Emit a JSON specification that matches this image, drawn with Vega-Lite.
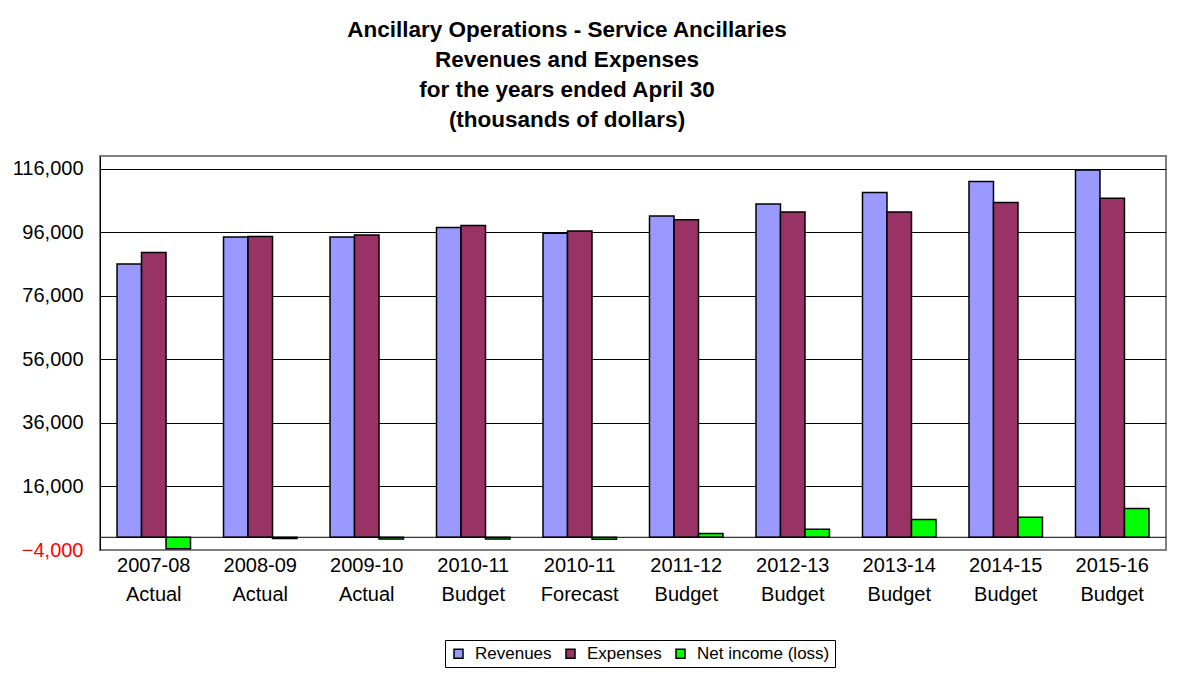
{
  "$schema": "https://vega.github.io/schema/vega-lite/v6.json",
  "autosize": {"type": "none"},
  "width": 1066,
  "height": 394,
  "padding": {"left": 100, "top": 156, "right": 32, "bottom": 126},
  "background": "white",
  "config": {
    "font": "Liberation Sans",
    "view": {"stroke": "#808080", "strokeWidth": 2},
    "axis": {"labelFont": "Liberation Sans", "labelColor": "black"}
  },
  "title": {
    "text": ["Ancillary Operations - Service Ancillaries", "Revenues and Expenses", "for the years ended April 30", "(thousands of dollars)"],
    "font": "Liberation Sans",
    "fontSize": 22.5,
    "fontWeight": "bold",
    "color": "black",
    "lineHeight": 30,
    "anchor": "middle",
    "dx": -66,
    "offset": 25
  },
  "data": {
    "values": [
      {"period": "2007-08|Actual", "series": "Revenues", "value": 86000},
      {"period": "2007-08|Actual", "series": "Expenses", "value": 89600},
      {"period": "2007-08|Actual", "series": "Net income (loss)", "value": -3600},
      {"period": "2008-09|Actual", "series": "Revenues", "value": 94500},
      {"period": "2008-09|Actual", "series": "Expenses", "value": 94700},
      {"period": "2008-09|Actual", "series": "Net income (loss)", "value": -400},
      {"period": "2009-10|Actual", "series": "Revenues", "value": 94500},
      {"period": "2009-10|Actual", "series": "Expenses", "value": 95100},
      {"period": "2009-10|Actual", "series": "Net income (loss)", "value": -500},
      {"period": "2010-11|Budget", "series": "Revenues", "value": 97500},
      {"period": "2010-11|Budget", "series": "Expenses", "value": 98100},
      {"period": "2010-11|Budget", "series": "Net income (loss)", "value": -500},
      {"period": "2010-11|Forecast", "series": "Revenues", "value": 95700},
      {"period": "2010-11|Forecast", "series": "Expenses", "value": 96400},
      {"period": "2010-11|Forecast", "series": "Net income (loss)", "value": -600},
      {"period": "2011-12|Budget", "series": "Revenues", "value": 101100},
      {"period": "2011-12|Budget", "series": "Expenses", "value": 99900},
      {"period": "2011-12|Budget", "series": "Net income (loss)", "value": 1200},
      {"period": "2012-13|Budget", "series": "Revenues", "value": 104900},
      {"period": "2012-13|Budget", "series": "Expenses", "value": 102400},
      {"period": "2012-13|Budget", "series": "Net income (loss)", "value": 2500},
      {"period": "2013-14|Budget", "series": "Revenues", "value": 108500},
      {"period": "2013-14|Budget", "series": "Expenses", "value": 102400},
      {"period": "2013-14|Budget", "series": "Net income (loss)", "value": 5600},
      {"period": "2014-15|Budget", "series": "Revenues", "value": 112000},
      {"period": "2014-15|Budget", "series": "Expenses", "value": 105400},
      {"period": "2014-15|Budget", "series": "Net income (loss)", "value": 6300},
      {"period": "2015-16|Budget", "series": "Revenues", "value": 115600},
      {"period": "2015-16|Budget", "series": "Expenses", "value": 106700},
      {"period": "2015-16|Budget", "series": "Net income (loss)", "value": 9100}
    ]
  },
  "layer": [
    {
      "mark": {"type": "bar", "stroke": "black", "strokeWidth": 1.5},
      "encoding": {
        "x": {
          "field": "period",
          "type": "nominal",
          "sort": null,
          "title": null,
          "scale": {"paddingInner": 0.31, "paddingOuter": 0.16},
          "axis": {
            "labelAngle": 0,
            "labelExpr": "split(datum.value, '|')",
            "labelFontSize": 20,
            "labelLineHeight": 29,
            "labelPadding": 5,
            "ticks": false,
            "domain": false,
            "grid": false
          }
        },
        "xOffset": {
          "field": "series",
          "type": "nominal",
          "sort": ["Revenues", "Expenses", "Net income (loss)"],
          "scale": {"paddingInner": 0, "paddingOuter": 0}
        },
        "y": {
          "field": "value",
          "type": "quantitative",
          "title": null,
          "scale": {"domain": [-4000, 120000], "nice": false, "zero": false},
          "axis": {
            "values": [-4000, 16000, 36000, 56000, 76000, 96000, 116000],
            "format": ",d",
            "labelFontSize": 20,
            "labelPadding": 17,
            "labelColor": {"condition": {"test": "datum.value < 0", "value": "#FF0000"}, "value": "black"},
            "ticks": false,
            "domain": true,
            "domainColor": "black",
            "domainWidth": 1,
            "grid": true,
            "gridColor": {"condition": {"test": "datum.value < 0", "value": "#808080"}, "value": "black"},
            "gridWidth": 1,
            "gridOpacity": 1
          }
        },
        "color": {
          "field": "series",
          "type": "nominal",
          "title": null,
          "scale": {
            "domain": ["Revenues", "Expenses", "Net income (loss)"],
            "range": ["#9999FF", "#993366", "#00FF00"]
          },
          "legend": {
            "orient": "none",
            "legendX": 345,
            "legendY": 484,
            "direction": "horizontal",
            "symbolType": "square",
            "symbolSize": 81,
            "symbolStrokeColor": "black",
            "symbolStrokeWidth": 1.5,
            "symbolOpacity": 1,
            "labelFontSize": 17,
            "labelFont": "Liberation Sans",
            "labelColor": "black",
            "labelOffset": 8,
            "columnPadding": 10,
            "padding": 5,
            "strokeColor": "black",
            "fillColor": "white"
          }
        }
      }
    },
    {
      "data": {"values": [{"zero": 0}]},
      "mark": {"type": "rule", "color": "black", "strokeWidth": 1},
      "encoding": {"y": {"field": "zero", "type": "quantitative"}}
    }
  ]
}
